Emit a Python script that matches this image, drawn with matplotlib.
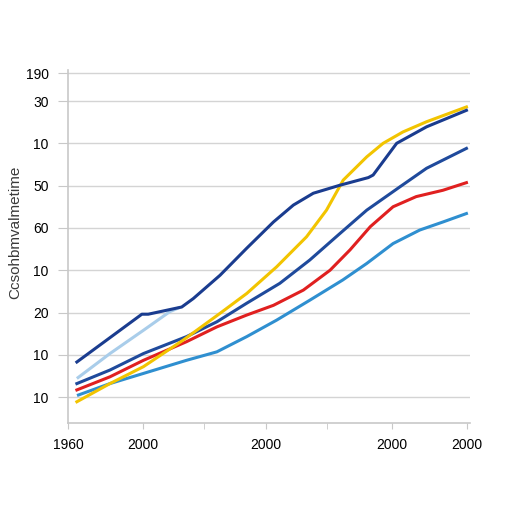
import matplotlib
matplotlib.use("Agg")
import matplotlib.pyplot as plt

plt.rcParams['font.family'] = ['Liberation Sans', 'DejaVu Sans']

# y ticks (positions are grid levels) and their printed labels
Y_TICKS = [0, 1, 2, 3, 4, 5, 6, 7, 7.66]
Y_LABELS = ['10', '10', '20', '10', '60', '50', '10', '30', '190']
X_TICKS = [0, 18.8, 49.6, 81.2, 100]
X_LABELS = ['1960', '2000', '2000', '2000', '2000']
X_MINOR = [34.1, 65.0]

navy_x = [2.2, 18.5, 20.1, 28.5, 31.4, 38.1, 44.8, 51.5, 56.5, 61.5, 68.2, 75.3, 76.5, 82.4, 89.9, 99.9]
navy_y = [0.83, 1.96, 1.96, 2.13, 2.33, 2.88, 3.52, 4.14, 4.54, 4.82, 5.01, 5.19, 5.25, 6.00, 6.39, 6.78]

light_x = [2.2, 10.5, 18.9, 25.5, 28.0]
light_y = [0.44, 1.03, 1.58, 2.02, 2.12]

yellow_x = [2.2, 10.5, 18.9, 28.9, 38.1, 44.8, 52.3, 59.8, 64.8, 69.0, 74.9, 79.0, 84.0, 89.9, 99.9]
yellow_y = [-0.11, 0.32, 0.72, 1.35, 1.98, 2.45, 3.08, 3.79, 4.42, 5.13, 5.68, 6.00, 6.27, 6.51, 6.86]

mid_navy_x = [2.2, 10.5, 18.9, 29.7, 37.3, 44.8, 53.1, 60.6, 68.2, 74.9, 83.2, 89.9, 99.9]
mid_navy_y = [0.32, 0.64, 1.03, 1.43, 1.78, 2.22, 2.69, 3.24, 3.87, 4.42, 4.97, 5.41, 5.88]

red_x = [2.2, 10.5, 18.9, 29.7, 37.3, 44.8, 51.5, 59.0, 65.7, 70.7, 75.8, 81.5, 87.3, 94.0, 99.9]
red_y = [0.17, 0.48, 0.87, 1.31, 1.66, 1.94, 2.17, 2.53, 3.00, 3.48, 4.03, 4.50, 4.74, 4.89, 5.07]

blue_x = [2.6, 10.5, 18.9, 29.7, 37.3, 44.8, 52.3, 60.6, 68.9, 74.9, 81.5, 88.2, 94.0, 99.9]
blue_y = [0.05, 0.32, 0.56, 0.87, 1.07, 1.43, 1.82, 2.29, 2.77, 3.16, 3.63, 3.95, 4.14, 4.34]

fig = plt.figure(figsize=(5.12, 5.12), dpi=100)
ax = fig.add_axes([0.133, 0.174, 0.785, 0.689])

lw = 2.2
ax.plot(light_x, light_y, color='#a9cdea', lw=lw, solid_capstyle='butt')
ax.plot(blue_x, blue_y, color='#2f8fd0', lw=lw)
ax.plot(red_x, red_y, color='#e02020', lw=lw)
ax.plot(mid_navy_x, mid_navy_y, color='#1f4a9c', lw=lw)
ax.plot(yellow_x, yellow_y, color='#f2c400', lw=lw)
ax.plot(navy_x, navy_y, color='#1a3c8f', lw=lw)

ax.set_xlim(0, 100.8)
ax.set_ylim(-0.61, 7.73)

ax.set_yticks(Y_TICKS)
ax.set_yticklabels(Y_LABELS, fontsize=10)
ax.set_xticks(X_TICKS)
ax.set_xticklabels(X_LABELS, fontsize=10)
ax.set_xticks(X_MINOR, minor=True)

ax.grid(axis='y', color='#d4d4d4', lw=1)
ax.set_axisbelow(True)
for s in ['top', 'right']:
    ax.spines[s].set_visible(False)
for s in ['left', 'bottom']:
    ax.spines[s].set_color('#c8c8c8')
    ax.spines[s].set_linewidth(1.2)
ax.tick_params(axis='y', length=7, color='#c8c8c8', pad=7)
ax.tick_params(axis='x', which='both', length=4, color='#c8c8c8', pad=7)

ax.set_ylabel('Ccsohbmvalmetime', fontsize=11, color='#3a3a3a')
ax.yaxis.set_label_coords(-0.115, 0.54)

fig.savefig('out.png', dpi=100, facecolor='white')
